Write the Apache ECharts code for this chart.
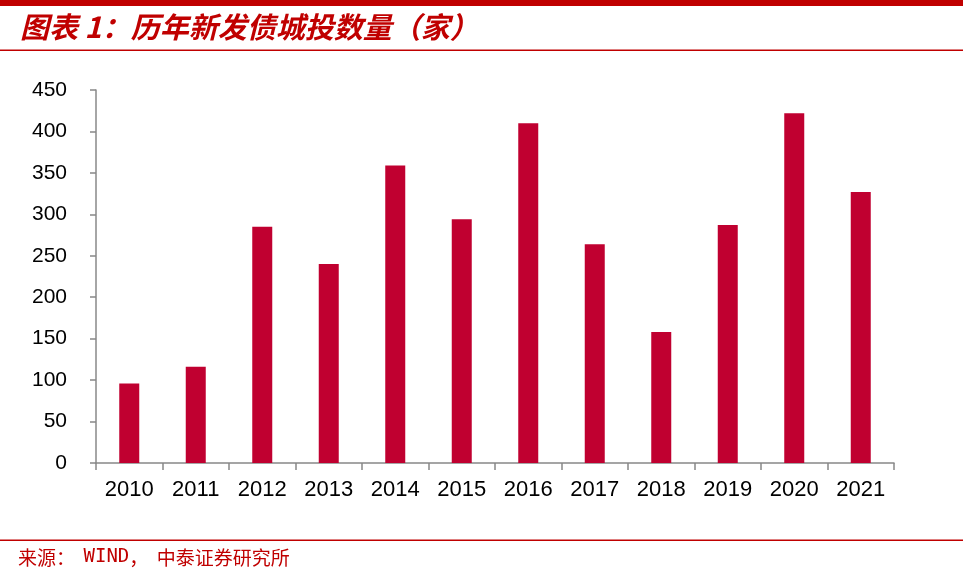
<!DOCTYPE html>
<html>
<head>
<meta charset="utf-8">
<script src="https://cdn.jsdelivr.net/npm/echarts@6/dist/echarts.min.js"></script>
<style>
  html, body { margin: 0; padding: 0; background: #fff; }
  #chart { width: 963px; height: 574px; }
</style>
</head>
<body>
<div id="chart"></div>
<script>
  // 年份
  const years = ['2010', '2011', '2012', '2013', '2014', '2015', '2016', '2017', '2018', '2019', '2020', '2021']
  // 新发债城投数量（家）
  const counts = [96, 116, 285, 240, 359, 294, 410, 264, 158, 287, 422, 327]
  const yTicks = [0, 50, 100, 150, 200, 250, 300, 350, 400, 450]

  const red = '#C00000'
  const chart = echarts.init(document.getElementById('chart'))
  chart.setOption({
    animation: false,
    grid: { left: 96, right: 69, top: 90, bottom: 111 },
    xAxis: {
      type: 'category',
      data: years,
      axisLine: { lineStyle: { color: '#888', width: 1.5 } },
      axisTick: { show: true, length: 7, lineStyle: { color: '#888', width: 1.5 } },
      axisLabel: { color: '#000', fontSize: 22, fontFamily: 'Liberation Sans', margin: 16 }
    },
    yAxis: {
      type: 'value',
      min: yTicks[0],
      max: yTicks[yTicks.length - 1],
      interval: 50,
      splitLine: { show: false },
      axisLine: { show: true, lineStyle: { color: '#888', width: 1.5 } },
      axisTick: { show: true, inside: false, length: 6, lineStyle: { color: '#888', width: 1.5 } },
      axisLabel: { color: '#000', fontSize: 21, fontFamily: 'Liberation Sans', margin: 29 }
    },
    series: [{
      type: 'bar',
      data: counts,
      barWidth: 20,
      itemStyle: { color: '#C00030' }
    }],
    graphic: [
      { type: 'rect', shape: { x: 0, y: 0, width: 963, height: 6 }, style: { fill: red } },
      { type: 'rect', shape: { x: 0, y: 49.5, width: 963, height: 1.5 }, style: { fill: red } },
      {
        type: 'text', left: 20, top: 12,
        style: {
          text: '图表 1：历年新发债城投数量（家）',
          fill: red,
          font: 'italic bold 29px "Noto Sans CJK SC", "Liberation Sans"'
        }
      },
      { type: 'rect', shape: { x: 0, y: 539.5, width: 963, height: 1.5 }, style: { fill: red } },
      {
        type: 'text', left: 18, top: 548,
        style: {
          // 中文部分和 WIND 分开设字体
          text: '{a|来源：  }{b|WIND}{a|，  中泰证券研究所}',
          rich: {
            a: { fill: red, font: '19px "Noto Sans CJK SC"', lineHeight: 22, verticalAlign: 'middle' },
            b: { fill: red, font: '19px "DejaVu Sans Mono"', lineHeight: 22, verticalAlign: 'middle' }
          }
        }
      }
    ]
  })
</script>
</body>
</html>
